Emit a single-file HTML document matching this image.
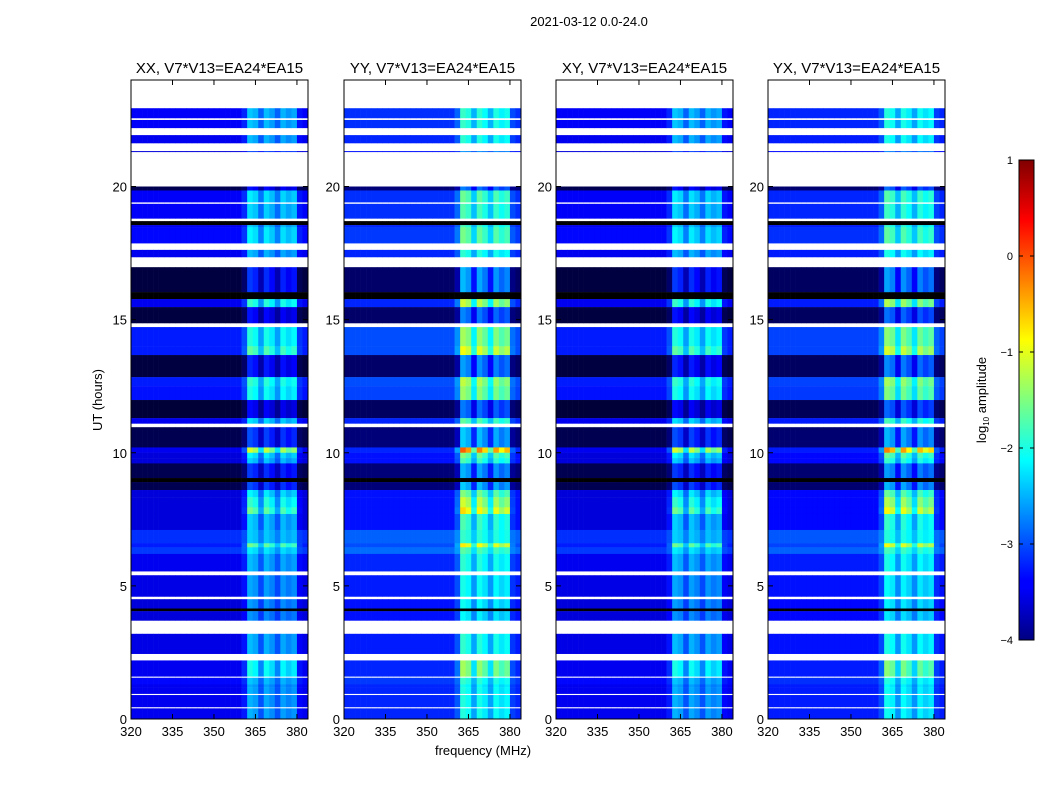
<!DOCTYPE html>
<html><head><meta charset="utf-8">
<style>
body{margin:0;background:#fff;}
svg text{font-family:"Liberation Sans",sans-serif;fill:#000;}
</style></head>
<body>
<svg id="fig" width="1050" height="800" viewBox="0 0 1050 800" xmlns="http://www.w3.org/2000/svg">
<defs>
<linearGradient id="jet" x1="0" y1="1" x2="0" y2="0">
<stop offset="0" stop-color="#000080"/><stop offset="0.11" stop-color="#0000ff"/><stop offset="0.125" stop-color="#0000ff"/>
<stop offset="0.375" stop-color="#00ffff"/><stop offset="0.5" stop-color="#7fff7f"/><stop offset="0.625" stop-color="#ffff00"/>
<stop offset="0.875" stop-color="#ff0000"/><stop offset="1" stop-color="#800000"/>
</linearGradient>
</defs>
<text x="589" y="26" font-size="13" text-anchor="middle">2021-03-12 0.0-24.0</text>
<text x="483" y="755" font-size="13" text-anchor="middle">frequency (MHz)</text>
<text x="102" y="400" font-size="13" text-anchor="middle" transform="rotate(-90 102 400)">UT (hours)</text>
<g id="panels"></g>
<g>
<rect x="1019" y="160" width="15" height="480" fill="url(#jet)" stroke="#000" stroke-width="1"/>
</g>
<g id="cbticks"></g>
<text x="986" y="400" font-size="13" text-anchor="middle" transform="rotate(-90 986 400)">log<tspan font-size="8" dy="3">10</tspan><tspan dy="-3"> amplitude</tspan></text>
</svg>
<script>
// ---- data ----
const panelTitles = ["XX, V7*V13=EA24*EA15","YY, V7*V13=EA24*EA15","XY, V7*V13=EA24*EA15","YX, V7*V13=EA24*EA15"];
const panelLevelOffset = [0, 0.25, 0, 0.2];
const panelRfiGain = [1, 1.3, 1, 1.25];
// frequency bin starts (MHz), width 2 MHz
const freqBins = [320,322,324,326,328,330,332,334,336,338,340,342,344,346,348,350,352,354,356,358,360,362,364,366,368,370,372,374,376,378,380,382];
const freqBoost = [0,0,0,0,0,0,0,0,0,0,0,0,0,0,0,0,0,0,0,0,0.2,1.0,0.9,0.5,0.95,0.8,0.5,0.9,0.75,0.85,0.1,0];
// time segments: start hour, end hour, base log amplitude (null = no data), rfi strength
const segStart = [22.94,22.57,22.5,22.2,21.93,21.63,21.33,21.3,20.0,19.85,19.41,19.35,18.8,18.7,18.55,18.47,17.87,17.62,17.35,16.97,16.03,15.77,15.47,14.87,14.72,14.0,13.67,12.84,12.5,11.98,11.3,11.1,10.96,10.2,10.0,9.8,9.6,9.05,8.9,8.6,8.33,7.95,7.7,7.1,6.6,6.45,6.2,5.55,5.4,4.6,4.5,4.15,4.05,3.7,3.2,2.45,2.2,1.6,1.55,1.3,1.2,0.95,0.9,0.45,0.4,0];
const segEnd =   [24,22.94,22.57,22.5,22.2,21.93,21.63,21.33,21.3,20.0,19.85,19.41,19.35,18.8,18.7,18.55,18.47,17.87,17.62,17.35,16.97,16.03,15.77,15.47,14.87,14.72,14.0,13.67,12.84,12.5,11.98,11.3,11.1,10.96,10.2,10.0,9.8,9.6,9.05,8.9,8.6,8.33,7.95,7.7,7.1,6.6,6.45,6.2,5.55,5.4,4.6,4.5,4.15,4.05,3.7,3.2,2.45,2.2,1.6,1.55,1.3,1.2,0.95,0.9,0.45,0.4];
const segLevel = [null,-3.4,null,-3.4,null,-3.45,null,-3.55,null,-4.3,-3.4,null,-3.4,null,-9,-3.45,-3.35,null,-3.45,null,-4.4,-9,-3.45,-4.4,null,-3.25,-3.25,-4.4,-3.25,-3.3,-4.45,-3.45,null,-4.3,-3.45,-3.55,-3.55,-4.3,-9,-4.3,-3.55,-3.55,-3.55,-3.55,-3.15,-3.25,-3.1,-3.45,null,-3.5,null,-3.55,-9,-3.55,null,-3.5,null,-3.45,null,-3.35,-3.45,-3.45,null,-3.45,null,-3.45];
const segRfi =   [0,1.0,0,1.0,0,1.0,0,0.5,0,1.0,1.2,0,1.1,0,0,1.1,1.2,0,1.0,0,1.3,0,1.6,1.1,0,1.3,1.6,1.2,1.4,1.3,1.1,1.2,0,1.3,2.4,1.4,1.2,1.2,0,1.3,1.4,1.7,2.0,1.2,0.8,1.7,0.9,1.0,0,0.95,0,0.95,0,0.9,0,1.05,0,1.45,0,0.95,0.9,0.95,0,0.95,0,0.95];
const yTicks = [0,5,10,15,20];
const xTicks = [320,335,350,365,380];
const cbTicks = [1,0,-1,-2,-3,-4];

// ---- helpers ----
const NS = "http://www.w3.org/2000/svg";
const panelX = [131,344,556,768];
const panelW = 177, plotTop = 80, plotBottom = 719;
const yScale = h => plotBottom - (h/24)*(plotBottom-plotTop);
const xScale = (f,i) => panelX[i] + (f-320)/(384-320)*panelW;
function jet(v){
  if (v < -4) {
    const b = Math.round(128*Math.max(0, 1 - (-4 - v)/0.8));
    return `rgb(0,0,${b})`;
  }
  let t = Math.max(0, Math.min(1, (v+4)/5));
  const c = x => Math.round(255*Math.max(0, Math.min(1, 1.5 - Math.abs(4*t - x))));
  return `rgb(${c(3)},${c(2)},${c(1)})`;
}
function mk(tag, attrs, parent){
  const e = document.createElementNS(NS, tag);
  for (const k in attrs) e.setAttribute(k, attrs[k]);
  parent.appendChild(e); return e;
}
const panelsG = document.getElementById("panels");
for (let p=0;p<4;p++){
  const g = mk("g",{},panelsG);
  
  
  for (let s=0;s<segStart.length;s++){
    if (segLevel[s]===null) continue;
    const y0 = yScale(segEnd[s]), y1 = yScale(segStart[s]);
    for (let b=0;b<freqBins.length;b++){
      let col;
      if (segLevel[s] < -5) col = "#000";
      else col = jet(segLevel[s] + panelLevelOffset[p] + segRfi[s]*freqBoost[b]*panelRfiGain[p]);
      const x0 = xScale(freqBins[b],p), x1 = xScale(freqBins[b]+2,p);
      const r = mk("rect",{x:x0.toFixed(2),y:y0.toFixed(2),width:(x1-x0+0.3).toFixed(2),height:(y1-y0+0.2).toFixed(2),fill:col},g);
      
      
    }
  }
  const frame = mk("rect",{x:panelX[p],y:plotTop,width:panelW,height:plotBottom-plotTop,fill:"none",stroke:"#000","stroke-width":1},g);
  
  
  const t = mk("text",{x:panelX[p]+panelW/2,y:73,"font-size":15,"text-anchor":"middle"},g);
  t.textContent = panelTitles[p];
  
  
  for (const v of yTicks){
    const y = yScale(v);
    mk("line",{x1:panelX[p],x2:panelX[p]+5,y1:y,y2:y,stroke:"#000"},g);
    mk("line",{x1:panelX[p]+panelW-5,x2:panelX[p]+panelW,y1:y,y2:y,stroke:"#000"},g);
    const lt = mk("text",{x:panelX[p]-4,y:y+5,"font-size":13,"text-anchor":"end"},g);
    lt.textContent = v;
    
    
  }
  for (const f of xTicks){
    const x = xScale(f,p);
    mk("line",{x1:x,x2:x,y1:plotBottom,y2:plotBottom-5,stroke:"#000"},g);
    mk("line",{x1:x,x2:x,y1:plotTop,y2:plotTop+5,stroke:"#000"},g);
    const lt = mk("text",{x:x,y:plotBottom+17,"font-size":13,"text-anchor":"middle"},g);
    lt.textContent = f;
    
    
  }
}
const cbG = document.getElementById("cbticks");
for (const v of cbTicks){
  const y = 640 - (v+4)/5*480;
  mk("line",{x1:1019,x2:1023,y1:y,y2:y,stroke:"#000"},cbG);
  mk("line",{x1:1030,x2:1034,y1:y,y2:y,stroke:"#000"},cbG);
  const lt = mk("text",{x:1013,y:y+4,"font-size":11,"text-anchor":"end"},cbG);
  lt.textContent = v<0 ? "\u2212"+(-v) : v;
  
  
}
</script>
</body></html>
